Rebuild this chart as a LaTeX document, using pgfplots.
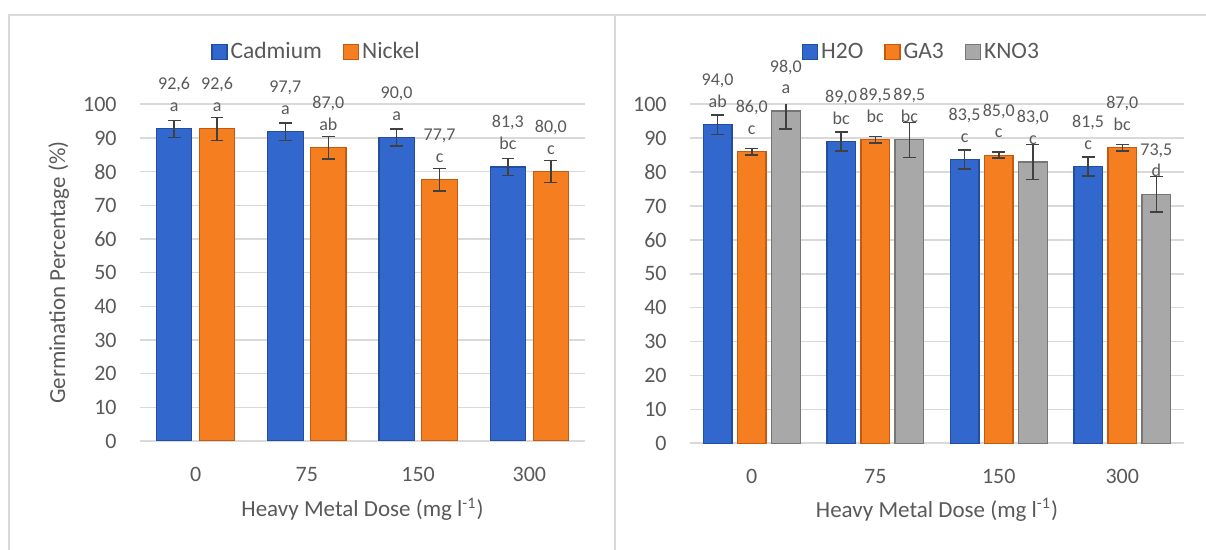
\documentclass[border=0pt]{standalone}
\usepackage{fontspec}
\setmainfont{Carlito}
\usepackage{pgfplots}
\pgfplotsset{compat=1.18}
\definecolor{txt}{HTML}{595959}
\definecolor{gridc}{HTML}{D9D9D9}
\definecolor{framec}{HTML}{D9D9D9}
\definecolor{errc}{HTML}{404040}
\definecolor{blueM}{RGB}{50,104,206}
\definecolor{blueE}{RGB}{34,78,160}
\definecolor{orM}{RGB}{245,126,32}
\definecolor{orE}{RGB}{196,90,16}
\definecolor{grM}{RGB}{168,168,168}
\definecolor{grE}{RGB}{118,118,118}
\pgfplotsset{
  common/.style={
    scale only axis,
    xmin=-0.5, xmax=3.5, ymin=0, ymax=100,
    ytick={0,10,...,100},
    xtick={0,1,2,3}, xticklabels={0,75,150,300},
    axis line style={draw=none},
    major tick length=0pt,
    ymajorgrids, grid style={gridc, line width=0.8pt},
    /pgf/number format/assume math mode=true,
    yticklabel style={font=\fontsize{11}{13}\selectfont, text=txt, anchor=east, inner sep=0pt, xshift=-11.5pt},
    xticklabel style={font=\fontsize{11}{13}\selectfont, text=txt, anchor=north, inner sep=0pt, yshift=-13pt},
    label style={font=\fontsize{11.5}{14}\selectfont, text=txt},
    legend style={draw=none, fill=none, legend columns=-1, anchor=center,
      font=\fontsize{11.75}{14}\selectfont, text=txt, inner sep=0pt,
      nodes={inner sep=1.5pt},
      /tikz/every even column/.append style={column sep=9pt}},
    legend image code/.code={\fill[#1] (0pt,-3.75pt) rectangle (7.5pt,3.75pt);},
    clip mode=individual,
  },
  barlab/.style={
    point meta=explicit symbolic,
    visualization depends on={value \thisrow{l} \as \lab},
    nodes near coords={\pgfplotspointmeta\\\lab},
    every node near coord/.append style={font=\fontsize{9}{10.9}\selectfont, text=txt, align=center, anchor=south, inner sep=0pt, yshift=8.25pt},
    error bars/.cd, y dir=both, y explicit,
      error bar style={errc, line width=0.75pt},
      error mark options={errc, line width=0.75pt, mark size=3.2pt, rotate=90},
  },
}
\begin{document}
\begin{tikzpicture}
\useasboundingbox (0,0) rectangle (603pt,275pt);
\draw[framec, line width=0.6pt] (4.5pt,-2pt) -- (4.5pt,267.5pt) -- (605pt,267.5pt);
\draw[framec, line width=0.6pt] (307.5pt,-2pt) -- (307.5pt,267.5pt);

\begin{axis}[common, at={(70pt,54.5pt)}, anchor=south west, width=222.5pt, height=168.35pt,
  legend style={at={(axis description cs:0.3978,1.155)}},
  xlabel={Heavy Metal Dose (mg l\textsuperscript{-1})},
  xlabel style={at={(axis description cs:0.5,-0.2257)}, anchor=base},
  ylabel={Germination Percentage (\%)},
  ylabel style={at={(axis description cs:-0.1685,0.5)}, anchor=base},
]
\addplot[ybar, bar width=0.319, bar shift=0, fill=blueM, draw=blueE, line width=0.6pt, barlab]
  table[x=x, y=y, y error=e, meta=v] {
x y e v l
-0.193 92.7 2.5 92,6 a
0.807 91.9 2.6 97,7 a
1.807 90.1 2.5 90,0 a
2.807 81.4 2.5 81,3 bc
};
\addlegendentry{Cadmium}
\addplot[ybar, bar width=0.319, bar shift=0, fill=orM, draw=orE, line width=0.6pt, barlab]
  table[x=x, y=y, y error=e, meta=v] {
x y e v l
0.193 92.7 3.4 92,6 a
1.193 87.1 3.4 87,0 ab
2.193 77.6 3.3 77,7 c
3.193 80.0 3.3 80,0 c
};
\addlegendentry{Nickel}
\end{axis}

\begin{axis}[common, at={(345pt,53.35pt)}, anchor=south west, width=247pt, height=169.5pt,
  legend style={at={(axis description cs:0.4696,1.154)}},
  xlabel={Heavy Metal Dose (mg l\textsuperscript{-1})},
  xlabel style={at={(axis description cs:0.5,-0.218)}, anchor=base},
]
\addplot[ybar, bar width=0.231, bar shift=0, fill=blueM, draw=blueE, line width=0.6pt, barlab]
  table[x=x, y=y, y error=e, meta=v] {
x y e v l
-0.276 94.0 2.85 94,0 ab
0.724 89.0 2.85 89,0 bc
1.724 83.7 2.85 83,5 c
2.724 81.6 2.8 81,5 c
};
\addlegendentry{H2O}
\addplot[ybar, bar width=0.231, bar shift=0, fill=orM, draw=orE, line width=0.6pt, barlab]
  table[x=x, y=y, y error=e, meta=v] {
x y e v l
0 86.0 0.95 86,0 c
1 89.5 0.95 89,5 bc
2 85.0 0.9 85,0 c
3 87.2 0.95 87,0 bc
};
\addlegendentry{GA3}
\addplot[ybar, bar width=0.231, bar shift=0, fill=grM, draw=grE, line width=0.6pt, barlab]
  table[x=x, y=y, y error=e, meta=v] {
x y e v l
0.276 98.0 5.3 98,0 a
1.276 89.5 5.2 89,5 bc
2.276 83.0 5.2 83,0 c
3.276 73.5 5.2 73,5 d
};
\addlegendentry{KNO3}
\end{axis}
\end{tikzpicture}
\end{document}
